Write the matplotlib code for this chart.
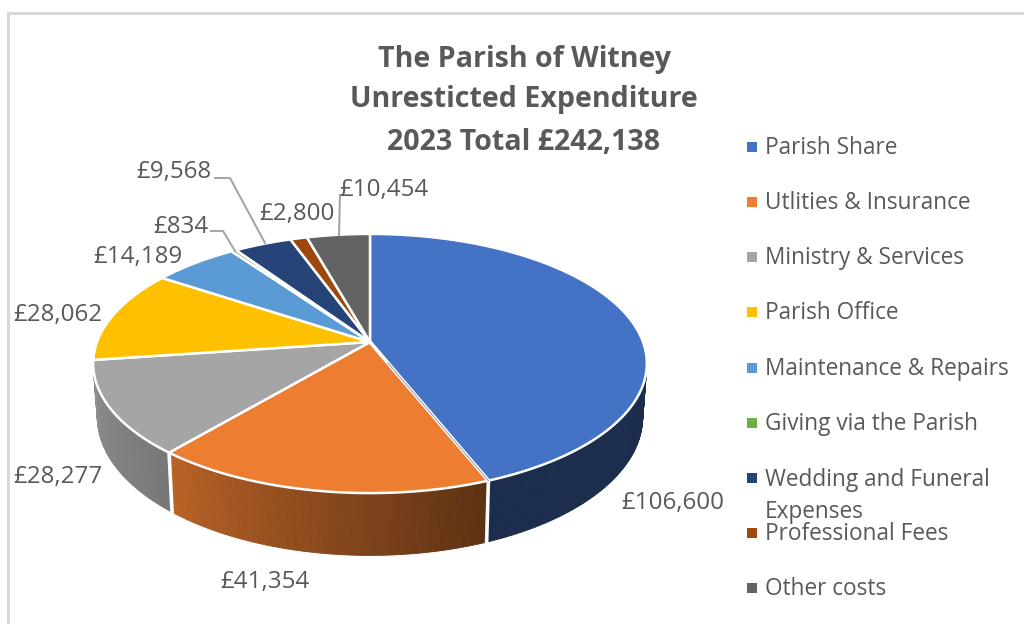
import numpy as np
import matplotlib
matplotlib.use("Agg")
import matplotlib.pyplot as plt
from matplotlib.colors import to_rgb

categories = ["Parish Share", "Utlities & Insurance", "Ministry & Services", "Parish Office",
              "Maintenance & Repairs", "Giving via the Parish", "Wedding and Funeral\nExpenses",
              "Professional Fees", "Other costs"]
values = [106600, 41354, 28277, 28062, 14189, 834, 9568, 2800, 10454]
title_lines = ["The Parish of Witney", "Unresticted Expenditure", "2023 Total £242,138"]

colors = ["#4472C4", "#ED7D31", "#A5A5A5", "#FFC000", "#5B9BD5", "#70AD47", "#264478", "#9E480E", "#636363"]
side_shade = [(0.39, 0.39), (0.78, 0.39), (0.87, 0.72), (0.6, 0.6), (0.6, 0.6), (0.6, 0.6), (0.6, 0.6), (0.6, 0.6), (0.6, 0.6)]
label_xy = [(673, 503), (265, 582), (58, 477), (58, 315), (138, 257), (181, 227), (174, 172), (297, 214), (384, 190)]
legend_y = [148, 203, 258, 313, 369, 424, 496, 534, 589]
marker_y = [147, 202, 257, 312, 368, 423, 478, 533, 588]

cx, cy, bx, ay, k, depth = 370, 342, 273, 126, -0.166, 52
TEXT = "#595959"
FONT = "Open Sans"

fig = plt.figure(figsize=(10.24, 6.24), dpi=100, facecolor="white")
ax = fig.add_axes([0, 0, 1, 1])
ax.set_xlim(0, 1024)
ax.set_ylim(624, 0)
ax.axis("off")


def top(theta):
    u, v = np.sin(theta), -np.cos(theta)
    w = 1 + k * v
    return cx + bx * u / w, cy + ay * v / w


def bottom(theta):
    x, y = top(theta)
    v = -np.cos(theta)
    return cx + (x - cx) * 0.985, y + depth / (1 + k * v)


# frame of the chart area
ax.plot([8, 8, 1024], [624, 13, 13], color="#D9D9D9", lw=2.2, solid_joinstyle="miter")

edges = np.concatenate([[0], np.cumsum(values)]) / np.sum(values) * 2 * np.pi

# side wall, shaded strip by strip
for i, col in enumerate(colors):
    a0, a1 = edges[i], edges[i + 1]
    n = max(3, int((a1 - a0) / 0.012))
    th = np.linspace(a0, a1, n + 1)
    base = np.array(to_rgb(col))
    s0, s1 = side_shade[i]
    for j in range(n):
        t = j / max(n - 1, 1)
        shade = s1 + (s0 - s1) * t
        if -np.cos(th[j]) < 0.145 or -np.cos(th[j + 1]) < 0.13 and i > 2:
            continue
        tx0, ty0 = top(th[j]); tx1, ty1 = top(th[j + 1])
        bx0, by0 = bottom(th[j]); bx1, by1 = bottom(th[j + 1])
        c = base * shade
        ax.fill([tx0, tx1, bx1, bx0], [ty0, ty1, by1, by0], color=c, lw=0.6, zorder=2)

# white seams on the wall
for a in edges[:-1]:
    if -np.cos(a) > 0.2:
        tx, ty = top(a); b_x, b_y = bottom(a)
        ax.plot([tx, b_x], [ty, b_y], color="white", lw=2.6, zorder=3)

# top face
for i, col in enumerate(colors):
    th = np.linspace(edges[i], edges[i + 1], 120)
    xs, ys = top(th)
    ax.fill(np.r_[cx, xs], np.r_[cy, ys], facecolor=col, edgecolor="white", lw=1.8,
            joinstyle="round", zorder=4)

# fine double seam between the first two slices
sx, sy = top(edges[1])
ax.plot([cx, sx], [cy, sy], color="white", lw=2.6, zorder=4.5)
ax.plot([cx + 0.15 * (sx - cx), sx], [cy + 0.15 * (sy - cy), sy], color="#8C9BB5", lw=0.7, zorder=4.6)

# leader lines
leaders = [([215, 230, 265], [178, 178, 243]), ([211, 223, 235], [231, 231, 251]), ([340, 339], [195, 235])]
for xs, ys in leaders:
    ax.plot(xs, ys, color="#A6A6A6", lw=1.5, zorder=5)

# value labels
for v, (x, y) in zip(values, label_xy):
    ax.text(x, y, f"£{v:,}", color=TEXT, fontsize=17.4, family=FONT, ha="center", va="center", zorder=6)

# legend
for name, col, y, my in zip(categories, colors, legend_y, marker_y):
    ax.scatter([751.5], [my], marker="s", s=42, color=col, linewidths=0, zorder=6)
    ax.text(765, y, name, color=TEXT, fontsize=16.3, family=FONT, ha="left", va="center",
            linespacing=1.5, zorder=6)

# title
for line, y in zip(title_lines, [59, 100, 143]):
    ax.text(524, y, line, color=TEXT, fontsize=20.6, fontweight="bold", family=FONT, ha="center", va="center", zorder=6)

fig.savefig("out.png", dpi=100, facecolor="white")
